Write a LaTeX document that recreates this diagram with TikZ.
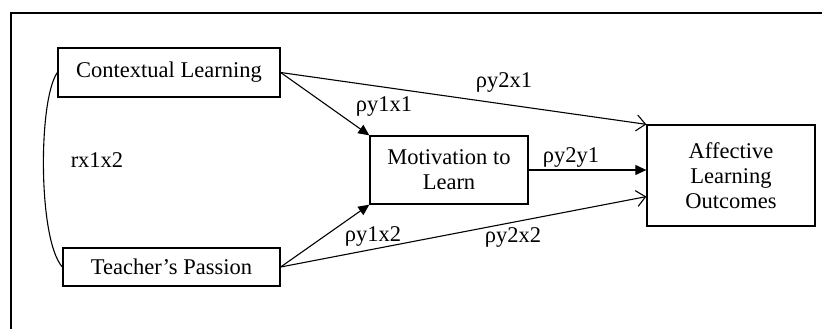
\documentclass[tikz,border=0pt]{standalone}
\usepackage{fontspec}
\setmainfont{Liberation Serif}
\usetikzlibrary{arrows.meta}

\begin{document}
\begin{tikzpicture}[x=1pt, y=-1pt, line width=1.1pt, font=\fontsize{22.5}{25}\selectfont]
    \tikzstyle{var}    = [rectangle, draw, line width=1.3pt, inner sep=0, align=center]
    \tikzstyle{coef}   = [inner sep=1]
    \tikzstyle{effect} = [-{Triangle[length=11pt,width=10pt]}]
    \tikzstyle{openfx} = [-{Straight Barb[length=9pt,width=16pt]}]

    \useasboundingbox (0,0) rectangle (822,329);
    \draw[line width=1.3pt] (822,13) -- (11,13) -- (11,329);

    \node[var, minimum width=222, minimum height=49]  (cl)  at (169,72.5)  {Contextual Learning};
    \node[var, minimum width=217, minimum height=38]  (tp)  at (171.5,267) {Teacher's Passion};
    \node[var, minimum width=158, minimum height=68]  (mot) at (449,170)   {Motivation to\\Learn};
    \node[var, minimum width=168, minimum height=101] (alo) at (731,175.5) {Affective\\Learning\\Outcomes};

    \draw[effect] (cl.east)  -- (mot.north west);
    \draw[openfx] (cl.east)  -- (alo.north west);
    \draw[effect] (tp.east)  -- (mot.south west);
    \draw[openfx] (tp.east)  -- (alo.194);
    \draw[effect] (mot.east) -- (mot.east -| alo.west);
    \draw (cl.west) .. controls (38,100) and (38,240) .. (tp.west);

    \node[coef] (r12)  at (97,160)  {rx1x2};
    \node[coef] (p11)  at (384,107) {ρy1x1};
    \node[coef] (p21)  at (504,82)  {ρy2x1};
    \node[coef] (p2y)  at (571,157) {ρy2y1};
    \node[coef] (p12)  at (373,236) {ρy1x2};
    \node[coef] (p22)  at (513,237) {ρy2x2};
\end{tikzpicture}
\end{document}
